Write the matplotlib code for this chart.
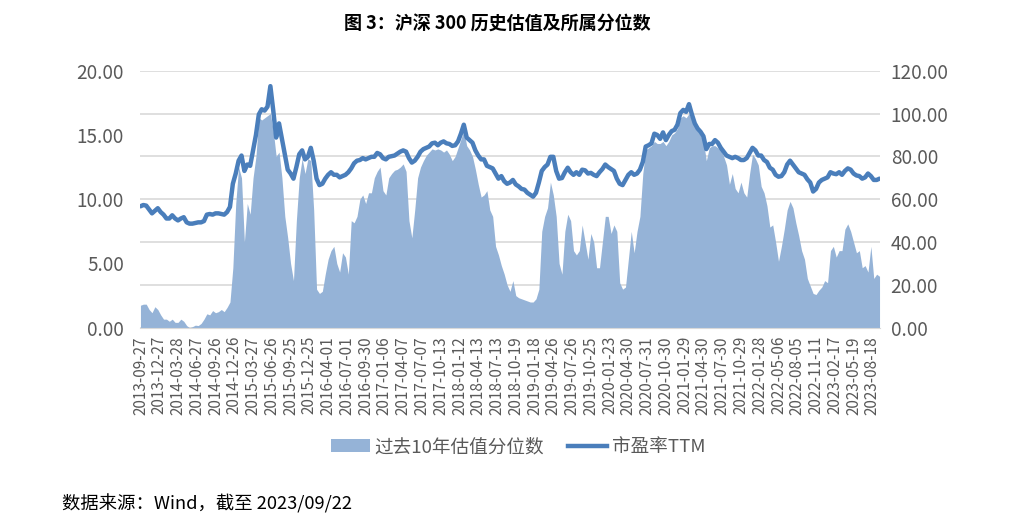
import numpy as np
import matplotlib
matplotlib.use("Agg")
import matplotlib.pyplot as plt
from matplotlib.patches import Patch
from matplotlib.lines import Line2D

plt.rcParams['font.family'] = ['Noto Sans CJK SC', 'DejaVu Sans']

# weekly trading dates shown on the x axis (every 13th week)
tick_labels = [
    '2013-09-27', '2013-12-27', '2014-03-28', '2014-06-27', '2014-09-26',
    '2014-12-26', '2015-03-27', '2015-06-26', '2015-09-25', '2015-12-25',
    '2016-04-01', '2016-07-01', '2016-09-30', '2017-01-06', '2017-04-07',
    '2017-07-07', '2017-10-13', '2018-01-12', '2018-04-13', '2018-07-13',
    '2018-10-19', '2019-01-18', '2019-04-26', '2019-07-26', '2019-10-25',
    '2020-01-23', '2020-04-30', '2020-07-31', '2020-10-30', '2021-01-29',
    '2021-04-30', '2021-07-30', '2021-10-29', '2022-01-28', '2022-05-06',
    '2022-08-05', '2022-11-11', '2023-02-17', '2023-05-19', '2023-08-18',
]
n_weeks = 513  # 2013-09-27 .. 2023-09-22
step = 2       # values read every second week

# 市盈率TTM, read every 2 weeks
pe_2013_2015 = [
    9.45, 9.55, 9.5, 9.2, 8.9, 9.1, 9.3, 9.0, 8.8, 8.5, 8.5, 8.75, 8.5, 8.35,
    8.5, 8.6, 8.2, 8.1, 8.1, 8.15, 8.2, 8.2, 8.3, 8.8, 8.85, 8.8, 8.9, 8.9,
    8.85, 8.8, 9.0, 9.4, 11.2, 12.0, 13.0, 13.4, 12.2, 12.7, 12.6, 13.8, 15.0,
    16.6, 17.0, 16.9, 17.2, 18.8, 16.9, 14.8, 15.9, 14.7, 13.5, 12.3, 12.0,
    11.6, 12.5, 13.5, 13.8, 13.1, 13.3, 14.0, 13.0, 11.6, 11.1, 11.2,
]
pe_2016_2018 = [
    11.6, 11.9, 12.1, 11.9, 11.9, 11.7, 11.8, 11.9, 12.1, 12.4, 12.8, 13.0,
    13.05, 13.2, 13.1, 13.2, 13.3, 13.3, 13.6, 13.5, 13.2, 13.1, 13.3, 13.35,
    13.4, 13.55, 13.7, 13.8, 13.7, 13.2, 12.85, 13.0, 13.3, 13.7, 13.9, 14.0,
    14.1, 14.35, 14.4, 14.2, 14.4, 14.5, 14.35, 14.3, 14.15, 14.2, 14.5, 15.1,
    15.8, 14.8, 14.6, 14.4, 13.8, 13.4, 13.1, 13.1, 12.6, 12.5, 12.4, 12.0,
    11.6, 11.8, 11.4, 11.2,
]
pe_2019_2021 = [
    11.3, 11.5, 11.15, 11.0, 10.8, 10.75, 10.5, 10.35, 10.2, 10.5, 11.3, 12.2,
    12.5, 12.7, 13.3, 13.3, 12.2, 11.6, 11.65, 12.1, 12.45, 12.1, 11.9, 12.1,
    11.9, 12.3, 12.25, 12.0, 12.05, 11.9, 11.8, 12.1, 12.35, 12.7, 12.5, 12.35,
    12.2, 11.6, 11.2, 11.1, 11.5, 11.9, 12.1, 11.9, 12.0, 12.3, 12.9, 14.1,
    14.2, 14.35, 15.1, 15.0, 14.7, 15.2, 14.6, 15.0, 15.3, 15.4, 15.8, 16.7,
    16.95, 16.8, 17.4, 16.6, 15.9, 15.5, 15.25, 14.9, 13.9, 14.3, 14.3, 14.6,
    14.4, 14.0, 13.7, 13.4, 13.3, 13.2, 13.3, 13.2, 13.05, 13.05, 13.2, 13.6,
    14.0, 13.8, 13.4,
]
pe_2022_2023 = [
    13.4, 13.05, 12.9, 12.45, 12.3, 11.9, 11.75, 11.8, 12.1, 12.7, 13.0, 12.7,
    12.4, 12.1, 12.0, 11.9, 11.55, 11.3, 10.6, 10.8, 11.3, 11.5, 11.6, 11.7,
    12.1, 12.0, 11.95, 12.1, 11.9, 12.2, 12.4, 12.3, 12.0, 11.85, 11.8, 11.6,
    11.7, 12.0, 11.8, 11.5, 11.5, 11.6,
]

# 过去10年估值分位数 (%), read every 2 weeks
pct_2013_2015 = [
    10.5, 11, 11, 8.5, 7, 9.8, 8.5, 6, 4, 4, 3, 4, 2.5, 2.5, 4, 3, 1, 0, 0.5,
    1.2, 1, 2, 4, 6.5, 6, 8, 7, 7.5, 8.5, 7.5, 9.5, 12, 28, 58, 75, 70, 40,
    58, 53, 70, 80, 98, 97, 98, 99, 100, 92, 80, 82, 70, 52, 42, 30, 22, 50,
    70, 79, 72, 79, 78, 55, 18, 16, 17,
]
pct_2016_2018 = [
    25, 32, 36, 38, 30, 26, 35, 33, 25, 50, 49, 52, 60, 62, 58, 63, 63, 70,
    73, 75, 64, 62, 70, 72, 73.5, 74, 75, 76.5, 73, 50, 42, 55, 70, 75, 78,
    80.5, 82, 83.5, 83, 83.5, 83, 82, 83, 81, 78, 80, 84, 88, 92, 85, 83, 80,
    74, 67, 61, 62, 64, 55, 52, 38, 34, 29, 25, 20,
]
pct_2019_2021 = [
    17, 22, 15, 14, 13.5, 13, 12.5, 12, 12, 13.5, 18, 45, 52, 56, 68, 62, 52,
    30, 25, 45, 53, 50, 36, 34, 36, 48, 40, 32, 44, 40, 28, 28, 40, 52, 52,
    44, 48, 45, 21, 18, 19, 32, 45, 35, 45, 52, 72, 83, 84, 85, 87, 86, 86,
    87, 85, 87, 90, 91, 93, 98, 99, 98, 100, 97, 94, 92, 90, 87, 78, 84, 85,
    85, 84, 83, 80, 76, 67, 72, 65, 63, 68, 63, 61, 72, 81, 79, 76,
]
pct_2022_2023 = [
    66, 63, 57, 47, 48, 40, 31, 38, 46, 55, 59, 56, 49, 43, 36, 32, 23, 19.5,
    16, 15.5, 17.5, 19, 22, 21, 36, 38, 33, 36, 36, 46, 48.5, 45, 40, 35, 36,
    28, 29, 26, 38, 23, 25, 24,
]

pe = np.array(pe_2013_2015 + pe_2016_2018 + pe_2019_2021 + pe_2022_2023)
pct = np.array(pct_2013_2015 + pct_2016_2018 + pct_2019_2021 + pct_2022_2023)
x = np.arange(0, n_weeks, step)

fig = plt.figure(figsize=(10.2, 5.29), dpi=100)
ax = fig.add_axes([0.137, 0.3805, 0.726, 0.4858])
ax2 = ax.twinx()

area_color = '#95B3D7'
line_color = '#4A7EBB'
grid_color = '#D9D9D9'
text_color = '#595959'

# area on the right axis, line on the left axis; area drawn underneath
ax2.fill_between(x, 0, pct, color=area_color, linewidth=0, zorder=1)
ax2.set_ylim(0, 120)
ax2.set_yticks(np.arange(0, 121, 20))
ax2.set_yticklabels([f'{v:.2f}' for v in np.arange(0, 121, 20)])
ax2.yaxis.grid(True, color=grid_color, linewidth=1.2, zorder=0)
ax2.set_axisbelow(True)

ax.set_zorder(ax2.get_zorder() + 1)
ax.patch.set_visible(False)
ax.plot(x, pe, color=line_color, linewidth=3.2, solid_joinstyle='round',
        solid_capstyle='round', zorder=3)
ax.set_ylim(0, 20)
ax.set_yticks(np.arange(0, 21, 5))
ax.set_yticklabels([f'{v:.2f}' for v in np.arange(0, 21, 5)])
ax.set_xlim(-0.5, n_weeks - 0.5)
ax.set_xticks(np.arange(0, len(tick_labels) * 13, 13))
ax.set_xticklabels(tick_labels, rotation=90)

for a in (ax, ax2):
    for s in a.spines.values():
        s.set_visible(False)
    a.tick_params(length=0, colors=text_color)
ax.tick_params(axis='y', labelsize=13.6, pad=11.5)
ax2.tick_params(axis='y', labelsize=13.6, pad=7.5)
ax.tick_params(axis='x', labelsize=11, pad=6)
ax2.spines['bottom'].set_visible(True)
ax2.spines['bottom'].set_color(grid_color)

fig.text(0.4875, 0.955, '图 3：沪深 300 历史估值及所属分位数', ha='center', va='center',
         fontsize=13, fontweight='bold', color='black')

handles = [Patch(facecolor=area_color, edgecolor='none'),
           Line2D([0], [0], color=line_color, linewidth=3.2)]
fig.legend(handles, ['过去10年估值分位数', '市盈率TTM'], loc='center',
           bbox_to_anchor=(0.508, 0.155), ncol=2, frameon=False, fontsize=13.4,
           labelcolor=text_color, handlelength=2.1, handleheight=0.65,
           handletextpad=0.25, columnspacing=1.3)

fig.text(0.061, 0.048, '数据来源：Wind，截至 2023/09/22', ha='left', va='center',
         fontsize=13.2, color='black')

fig.savefig('out.png', dpi=100)
